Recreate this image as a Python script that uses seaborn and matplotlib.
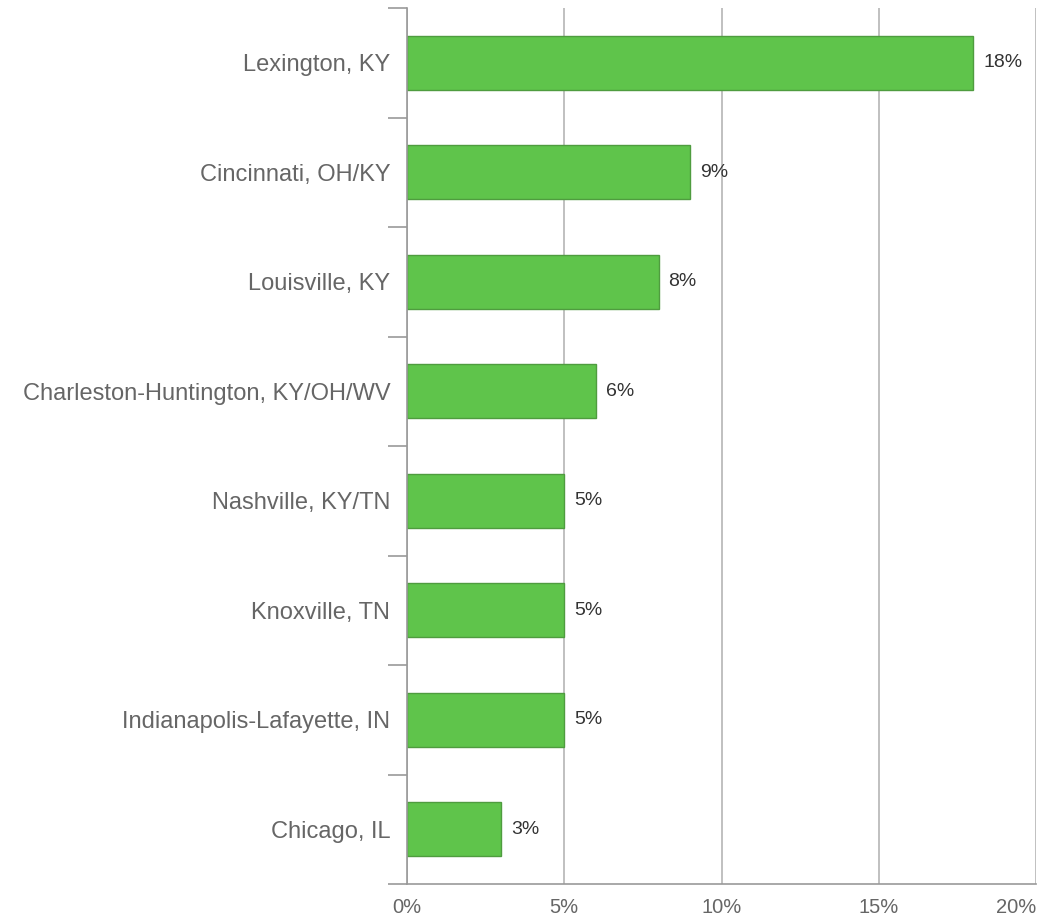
import matplotlib
matplotlib.use("Agg")
import matplotlib.pyplot as plt
import seaborn as sns
import pandas as pd
import numpy as np

categories = ["Lexington, KY", "Cincinnati, OH/KY", "Louisville, KY",
              "Charleston-Huntington, KY/OH/WV", "Nashville, KY/TN",
              "Knoxville, TN", "Indianapolis-Lafayette, IN", "Chicago, IL"]
values = [18, 9, 8, 6, 5, 5, 5, 3]
xticks = [0, 5, 10, 15, 20]
xtick_labels = ["0%", "5%", "10%", "15%", "20%"]

sns.set_theme(style="white")
plt.rcParams['font.family'] = ['Liberation Sans', 'DejaVu Sans']

df = pd.DataFrame({"cat": categories, "val": values})

fig = plt.figure(figsize=(10.55, 9.19), dpi=100)
ax = fig.add_axes([407/1055, 35/919, (1036-407)/1055, (911-35)/919])

sns.barplot(data=df, x="val", y="cat", orient="h", ax=ax, width=0.49,
            color="#5fc44b", edgecolor="#4f9c3f", linewidth=1.0, saturation=1)

ax.set_xlim(0, 20)
ax.set_ylim(len(categories) - 0.5, -0.5)
ax.set_xlabel("")
ax.set_ylabel("")

ax.set_xticks(xticks)
ax.set_xticklabels(xtick_labels, fontsize=14.5, color="#666666")
ax.tick_params(axis="x", length=0, pad=10)
ax.get_xticklabels()[-1].set_horizontalalignment("right")

ax.set_yticks(np.arange(-0.5, len(categories), 1.0))
ax.set_yticklabels([])
ax.tick_params(axis="y", which="major", left=True, length=14, width=1.2,
               color="#999999", direction="out")
ax.set_yticks(np.arange(len(categories)), minor=True)
ax.set_yticklabels(categories, minor=True, fontsize=17, color="#666666")
ax.tick_params(axis="y", which="minor", left=True, length=0, pad=12)

ax.grid(axis="x", color="#bbbbbb", linewidth=1.3)
ax.set_axisbelow(True)
for s in ["top", "right"]:
    ax.spines[s].set_visible(False)
ax.spines["left"].set_color("#999999")
ax.spines["left"].set_linewidth(1.2)
ax.spines["bottom"].set_color("#999999")
ax.spines["bottom"].set_linewidth(1.2)

for i, v in enumerate(values):
    ax.annotate(f"{v}%", xy=(v, i), xytext=(10, 0), textcoords="offset pixels",
                ha="left", va="center", fontsize=14, color="#333333")

fig.savefig("out.png", dpi=100)
